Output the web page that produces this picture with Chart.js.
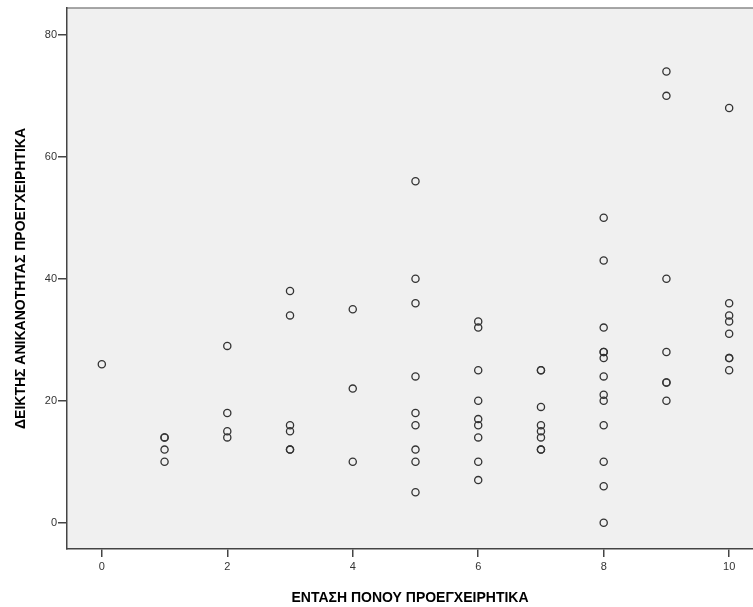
<!DOCTYPE html>
<html lang="el">
<head>
  <meta charset="UTF-8">
  <title>Scatter</title>
  <script src="https://cdn.jsdelivr.net/npm/chart.js"></script>
  <style>
    body { margin: 0; background: #fff; }
    canvas { display: block; }
  </style>
</head>
<body>
  <canvas id="scatter" width="753" height="607"></canvas>
  <script>
    const xTitle = 'ΕΝΤΑΣΗ ΠΟΝΟΥ ΠΡΟΕΓΧΕΙΡΗΤΙΚΑ';
    const yTitle = 'ΔΕΙΚΤΗΣ ΑΝΙΚΑΝΟΤΗΤΑΣ ΠΡΟΕΓΧΕΙΡΗΤΙΚΑ';
    const xTicks = [0, 2, 4, 6, 8, 10];
    const yTicks = [0, 20, 40, 60, 80];

    // pain score (x) and disability index (y), one entry per patient
    const painScore = [
      0,
      1, 1, 1, 1,
      2, 2, 2, 2,
      3, 3, 3, 3, 3, 3,
      4, 4, 4,
      5, 5, 5, 5, 5, 5, 5, 5, 5,
      6, 6, 6, 6, 6, 6, 6, 6, 6,
      7, 7, 7, 7, 7, 7, 7, 7,
      8, 8, 8, 8, 8, 8, 8, 8, 8, 8, 8, 8, 8,
      9, 9, 9, 9, 9, 9, 9,
      10, 10, 10, 10, 10, 10, 10, 10
    ];
    const disabilityIndex = [
      26,
      14, 14, 12, 10,
      29, 18, 15, 14,
      38, 34, 16, 15, 12, 12,
      35, 22, 10,
      56, 40, 36, 24, 18, 16, 12, 10, 5,
      33, 32, 25, 20, 17, 16, 14, 10, 7,
      25, 25, 19, 16, 15, 14, 12, 12,
      50, 43, 32, 28, 28, 27, 24, 21, 20, 16, 10, 6, 0,
      74, 70, 40, 28, 23, 23, 20,
      68, 36, 34, 33, 31, 27, 27, 25
    ];

    const points = painScore.map((x, i) => ({ x: x, y: disabilityIndex[i] }));

    const plotFrame = {
      id: 'plotFrame',
      beforeDraw(chart) {
        const { ctx, chartArea: a } = chart;
        ctx.save();
        ctx.fillStyle = '#f0f0f0';
        ctx.fillRect(a.left, a.top, a.right - a.left, a.bottom - a.top);
        ctx.strokeStyle = '#8a8a8a';
        ctx.lineWidth = 1.5;
        ctx.beginPath();
        ctx.moveTo(a.left, a.top);
        ctx.lineTo(a.right, a.top);
        ctx.stroke();
        ctx.restore();
      }
    };

    const tickFont = { family: 'Arial, "Liberation Sans", sans-serif', size: 11 };
    const titleFont = { family: 'Arial, "Liberation Sans", sans-serif', size: 14, weight: 'bold' };

    new Chart(document.getElementById('scatter'), {
      type: 'scatter',
      data: {
        datasets: [{
          data: points,
          pointStyle: 'circle',
          pointRadius: 3.6,
          pointBorderWidth: 1.3,
          pointBorderColor: '#333',
          pointBackgroundColor: 'rgba(0,0,0,0)'
        }]
      },
      options: {
        responsive: false,
        animation: false,
        layout: { autoPadding: false, padding: { top: 8, right: 0, left: 0, bottom: 0 } },
        plugins: { legend: { display: false }, tooltip: { enabled: false } },
        scales: {
          x: {
            type: 'linear',
            min: -0.555,
            max: 10.38,
            afterFit(scale) { scale.height = 58; },
            afterBuildTicks(scale) { scale.ticks = xTicks.map(v => ({ value: v })); },
            grid: { drawOnChartArea: false, drawTicks: true, tickLength: 8, color: '#444', lineWidth: 1.5 },
            border: { color: '#444', width: 1.5 },
            ticks: { font: tickFont, color: '#333', padding: 3, maxRotation: 0 },
            title: { display: true, text: xTitle, font: titleFont, color: '#000', padding: { top: 0, bottom: 0 } }
          },
          y: {
            type: 'linear',
            min: -4.3,
            max: 84.4,
            afterFit(scale) { scale.width = 67; },
            afterBuildTicks(scale) { scale.ticks = yTicks.map(v => ({ value: v })); },
            grid: { drawOnChartArea: false, drawTicks: true, tickLength: 9, color: '#444', lineWidth: 1.5 },
            border: { color: '#444', width: 1.5 },
            ticks: { font: tickFont, color: '#333', padding: 1 },
            title: { display: true, text: yTitle, font: titleFont, color: '#000', padding: { top: 13, bottom: 0 } }
          }
        }
      },
      plugins: [plotFrame]
    });
  </script>
</body>
</html>
